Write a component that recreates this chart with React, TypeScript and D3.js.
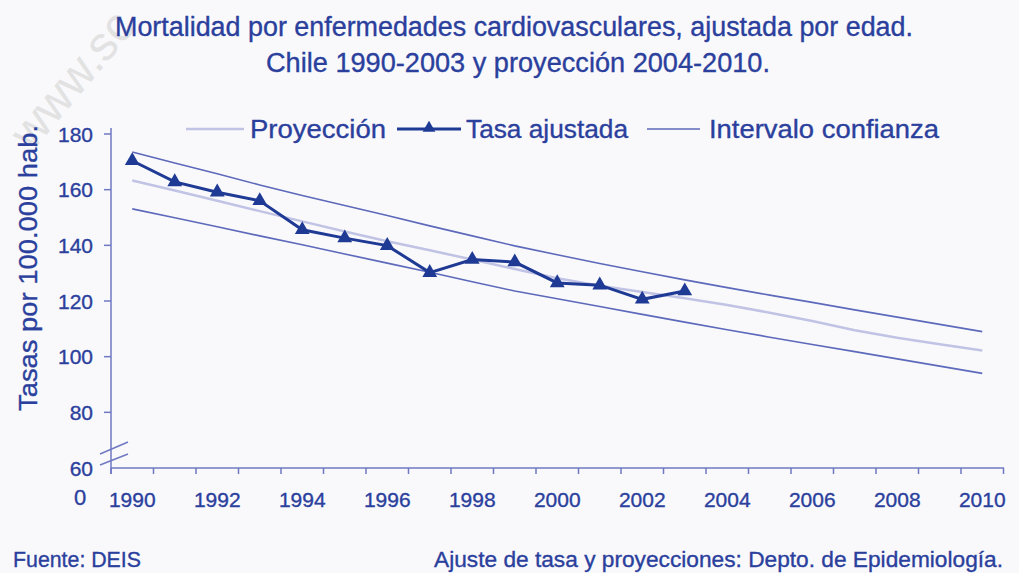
import * as d3 from 'd3'

const years = ['1990', '1991', '1992', '1993', '1994', '1995', '1996', '1997', '1998', '1999', '2000',
  '2001', '2002', '2003', '2004', '2005', '2006', '2007', '2008', '2009', '2010']
const xLabels = ['1990', '1992', '1994', '1996', '1998', '2000', '2002', '2004', '2006', '2008', '2010']
const yTicks = [60, 80, 100, 120, 140, 160, 180]

// observed adjusted rate 1990-2003
const tasaAjustada = [170.4, 162.8, 159.1, 156.0, 145.6, 142.6, 139.9, 130.2, 134.9, 134.0, 126.5, 125.7, 120.6, 123.6]
// projection and confidence interval 1990-2010
const proyeccion = [163.3, 159.7, 156.0, 152.3, 148.6, 145.0, 141.5, 138.2, 134.9, 131.5, 128.2,
  125.5, 123.2, 121.0, 118.6, 115.8, 112.8, 109.5, 106.8, 104.5, 102.2]
const icSuperior = [173.5, 169.6, 165.7, 161.7, 157.9, 154.3, 150.7, 147.0, 143.4, 139.8, 136.6,
  133.5, 130.5, 127.6, 124.8, 122.1, 119.5, 116.8, 114.2, 111.6, 109.0]
const icInferior = [153.1, 149.9, 146.7, 143.4, 140.2, 136.9, 133.6, 130.3, 126.9, 123.6, 120.8,
  118.0, 115.2, 112.4, 109.7, 107.0, 104.4, 101.8, 99.2, 96.6, 94.0]

const textColor = '#2b3f9c'
const axisColor = '#6f79c2'
const tasaColor = '#1f3a94'
const icColor = '#5d69ba'
const projColor = '#c0c3e4'
const font = '"Liberation Sans", Arial, sans-serif'

// slightly heavier text, like the blurred original
const txt = {fontFamily: font, fill: textColor, stroke: textColor, strokeWidth: 0.35}

export default function App() {
  const width = 1019
  const height = 573
  const x = d3.scaleBand<string>().domain(years).range([111, 1003.5]).padding(0)
  const y = d3.scaleLinear().domain([60, 180]).range([468, 134])
  const cx = (yr: string) => (x(yr) ?? 0) + x.bandwidth() / 2

  const line = d3.line<number>()
    .x((_, i) => cx(years[i]))
    .y(d => y(d))
  const triangle = d3.symbol(d3.symbolTriangle, 95)()

  const boundaries = years.map(yr => x(yr) ?? 0).concat([x.range()[1]])

  return (
    <svg width={width} height={height} style={{position: 'absolute', left: 0, top: 0, background: '#f9f9fc'}}>
      <rect width={width} height={height} fill="#f9f9fc"/>
      <text x={0} y={0} transform="translate(32,152) rotate(-50)" fontFamily={font} fontSize={48}
            fill="#e2e2e2">www.sc</text>

      <text x={514} y={36} textAnchor="middle" fontSize={27} {...txt}
            textLength={798} lengthAdjust="spacingAndGlyphs">
        Mortalidad por enfermedades cardiovasculares, ajustada por edad.
      </text>
      <text x={518} y={72} textAnchor="middle" fontSize={27} {...txt}
            textLength={504} lengthAdjust="spacingAndGlyphs">
        Chile 1990-2003 y proyección 2004-2010.
      </text>

      {/* legend */}
      <g fontSize={26} {...txt}>
        <line x1={186} x2={244} y1={129} y2={129} stroke={projColor} strokeWidth={2.5}/>
        <text x={250} y={138} textLength={136} lengthAdjust="spacingAndGlyphs">Proyección</text>
        <line x1={397} x2={461} y1={129} y2={129} stroke={tasaColor} strokeWidth={3}/>
        <path d={d3.symbol(d3.symbolTriangle, 70)() ?? ''} transform="translate(429,128)" fill={tasaColor}
              stroke="none"/>
        <text x={466} y={138} textLength={162} lengthAdjust="spacingAndGlyphs">Tasa ajustada</text>
        <line x1={647} x2={700} y1={129} y2={129} stroke={icColor} strokeWidth={1.6}/>
        <text x={709} y={138} textLength={230} lengthAdjust="spacingAndGlyphs">Intervalo confianza</text>
      </g>

      {/* y axis */}
      <line x1={111} x2={111} y1={128} y2={474} stroke={axisColor} strokeWidth={1.5}/>
      {yTicks.filter(t => t > 60).map(t => (
        <line key={t} x1={104} x2={111} y1={y(t)} y2={y(t)} stroke={axisColor} strokeWidth={1.5}/>
      ))}
      {yTicks.map(t => (
        <text key={t} x={93} y={y(t) + 7.5} textAnchor="end" fontSize={21} {...txt}>{t}</text>
      ))}
      <text x={80} y={505} textAnchor="middle" fontSize={22} {...txt}>0</text>
      <line x1={100} x2={128} y1={454} y2={442} stroke={axisColor} strokeWidth={1.5}/>
      <line x1={100} x2={128} y1={465} y2={454} stroke={axisColor} strokeWidth={1.5}/>
      <text transform="translate(37,268) rotate(-90)" textAnchor="middle" fontSize={26} {...txt}
            textLength={286} lengthAdjust="spacingAndGlyphs">Tasas por 100.000 hab.</text>

      {/* x axis */}
      <line x1={111} x2={1004} y1={y(60)} y2={y(60)} stroke={axisColor} strokeWidth={1.5}/>
      {boundaries.map((b, i) => (
        <line key={i} x1={b} x2={b} y1={y(60)} y2={y(60) + 6} stroke={axisColor} strokeWidth={1.5}/>
      ))}
      {xLabels.map(l => (
        <text key={l} x={cx(l)} y={507} textAnchor="middle" fontSize={21} {...txt}>{l}</text>
      ))}

      {/* series */}
      <path d={line(proyeccion) ?? ''} fill="none" stroke={projColor} strokeWidth={2.5}/>
      <path d={line(icSuperior) ?? ''} fill="none" stroke={icColor} strokeWidth={1.6}/>
      <path d={line(icInferior) ?? ''} fill="none" stroke={icColor} strokeWidth={1.6}/>
      <path d={line(tasaAjustada) ?? ''} fill="none" stroke={tasaColor} strokeWidth={3}/>
      {tasaAjustada.map((v, i) => (
        <path key={i} d={triangle ?? ''} transform={`translate(${cx(years[i])},${y(v)})`} fill={tasaColor}/>
      ))}

      {/* footer */}
      <text x={13} y={567} fontSize={22} {...txt}
            textLength={128} lengthAdjust="spacingAndGlyphs">Fuente: DEIS</text>
      <text x={1003} y={567} textAnchor="end" fontSize={22} {...txt}
            textLength={569} lengthAdjust="spacingAndGlyphs">Ajuste de tasa y proyecciones: Depto. de Epidemiología.</text>
    </svg>
  )
}
